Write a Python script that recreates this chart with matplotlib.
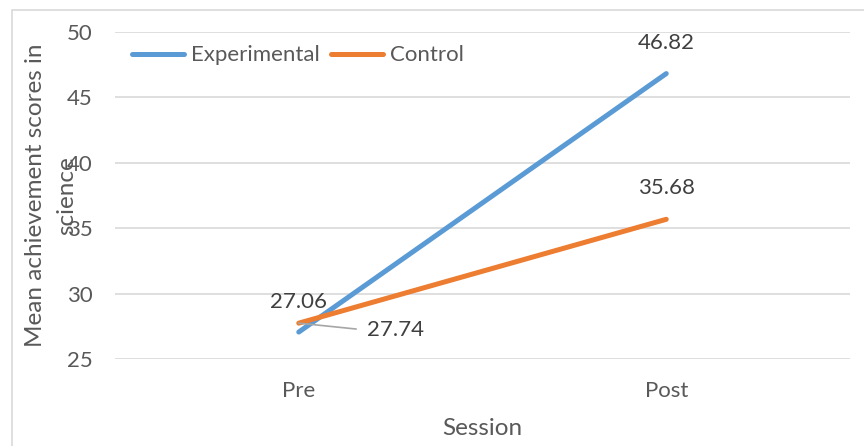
import matplotlib.pyplot as plt
from matplotlib.patches import Rectangle

# data
sessions = ["Pre", "Post"]
experimental = [27.06, 46.82]
control = [27.74, 35.68]
yticks = [25, 30, 35, 40, 45, 50]

blue = "#5B9BD5"
orange = "#ED7D31"
grey_text = "#595959"

plt.rcParams['font.family'] = ['Lato', 'DejaVu Sans']

fig = plt.figure(figsize=(8.64, 4.46), dpi=100)
ax = fig.add_axes([115 / 864, 1 - 359 / 446, 735 / 864, 327 / 446])

# outer chart border (left/top visible)
fig.patches.append(Rectangle((12 / 864, -0.1), 1.2, 1 - 10 / 446 + 0.1,
                             transform=fig.transFigure, fill=False,
                             edgecolor="#D9D9D9", lw=1.2))

x = list(range(len(sessions)))
ax.plot(x, experimental, color=blue, lw=3.6, solid_capstyle="round", label="Experimental")
ax.plot(x, control, color=orange, lw=3.6, solid_capstyle="round", label="Control")

ax.set_xlim(-0.5, 1.5)
ax.set_ylim(25, 50)
ax.set_yticks(yticks)
ax.set_xticks(x)
ax.set_xticklabels(sessions)
ax.grid(axis="y", color="#D9D9D9", lw=1.2)
ax.set_axisbelow(True)
for s in ax.spines.values():
    s.set_visible(False)
ax.tick_params(length=0, labelsize=16, labelcolor=grey_text)
ax.tick_params(axis="y", pad=16)
ax.tick_params(axis="x", pad=16)

ax.set_xlabel("Session", fontsize=17.5, color=grey_text, labelpad=12)
ax.set_ylabel("Mean achievement scores in\nscience", fontsize=17.5, color=grey_text,
              labelpad=-7, linespacing=1.55)

# data labels
lab = dict(fontsize=16, color="#404040", ha="center", va="center", textcoords="offset pixels")
ax.annotate(f"{experimental[1]:.2f}", (x[1], experimental[1]), xytext=(0, 31), **lab)
ax.annotate(f"{control[1]:.2f}", (x[1], control[1]), xytext=(0, 31), **lab)
ax.annotate(f"{experimental[0]:.2f}", (x[0], experimental[0]), xytext=(0, 30), **lab)
ax.annotate(f"{control[0]:.2f}", (x[0], control[0]), xytext=(97, -7), **lab,
            arrowprops=dict(arrowstyle="-", color="#A6A6A6", lw=1.2,
                            relpos=(0, 0.5), shrinkA=6, shrinkB=0))

leg = ax.legend(loc="upper left", ncol=2, frameon=False, fontsize=16,
                handlelength=2.35, handletextpad=0.3, columnspacing=0.5,
                bbox_to_anchor=(0.005, 1.0), borderaxespad=0.2)
for t in leg.get_texts():
    t.set_color(grey_text)

fig.savefig("out.png", dpi=100)
